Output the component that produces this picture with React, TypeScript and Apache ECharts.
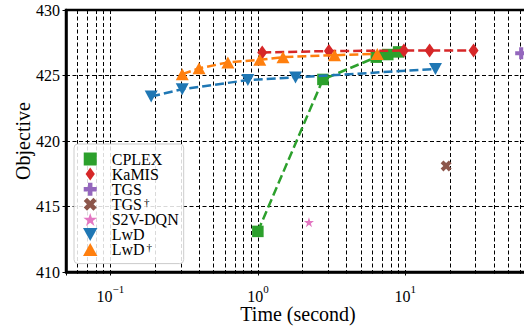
import React, { useEffect, useRef } from 'react';
import * as echarts from 'echarts';

const FONT = 'Liberation Serif';

const seriesNames = ['CPLEX', 'KaMIS', 'TGS', 'TGS†', 'S2V-DQN', 'LwD', 'LwD†'];
const seriesColors = ['#2ca02c', '#d62728', '#9467bd', '#8c564b', '#e377c2', '#1f77b4', '#ff7f0e'];

// [time (s), objective]
const cplexData = [[1.0, 413.1], [2.76, 424.7], [6.35, 426.4], [7.6, 426.6], [9.0, 426.8]];
const kamisData = [[1.07, 426.75], [3.03, 426.87], [9.77, 426.9], [14.6, 426.9], [29.0, 426.9]];
const tgsData = [[61.0, 426.7]];
const tgsDaggerData = [[18.9, 418.1]];
const s2vData = [[2.22, 413.8]];
const lwdData = [[0.189, 423.4], [0.307, 423.95], [0.855, 424.65], [1.8, 424.85], [16.0, 425.5]];
const lwdDaggerData = [[0.307, 425.1], [0.399, 425.55], [0.626, 426.0], [1.03, 426.2], [1.48, 426.4], [3.31, 426.55], [6.45, 426.65]];

const yTicks = [410, 415, 420, 425, 430];

const P_SQUARE = 'path://M0,0H10V10H0Z';
const P_DIAMOND = 'path://M5,0L10,7L5,14L0,7Z';
const P_PLUS = 'path://M3.3,0H6.7V3.3H10V6.7H6.7V10H3.3V6.7H0V3.3H3.3Z';
const P_X = 'path://M7.333,0.262L9.738,2.667L7.404,5L9.738,7.333L7.333,9.738L5,7.404L2.667,9.738L0.262,7.333L2.596,5L0.262,2.667L2.667,0.262L5,2.596Z';
const P_STAR = 'path://M10,0L12.245,6.91L19.511,6.91L13.633,11.18L15.878,18.09L10,13.82L4.122,18.09L6.367,11.18L0.489,6.91L7.755,6.91Z';
const P_TRI_DOWN = 'path://M0,0L10,0L5,9Z';
const P_TRI_UP = 'path://M5,0L10,9L0,9Z';

const symbols = [P_SQUARE, P_DIAMOND, P_PLUS, P_X, P_STAR, P_TRI_DOWN, P_TRI_UP];
const symbolSizes: any[] = [[11.5, 11.5], [10, 14], [12, 12], [11, 11], [10, 10], [13, 12], [13, 12]];
const dataSets = [cplexData, kamisData, tgsData, tgsDaggerData, s2vData, lwdData, lwdDaggerData];
const withLine = [true, true, false, false, false, true, true];

const option: any = {
  animation: false,
  backgroundColor: '#fff',
  textStyle: { fontFamily: FONT, color: '#000' },
  grid: {
    left: 66,
    top: 10,
    right: 30,
    bottom: 57,
    show: true,
    borderColor: '#000',
    borderWidth: 2.5,
    containLabel: false,
  },
  legend: {
    orient: 'vertical',
    left: 74,
    top: 144,
    padding: [7, 5, 6, 9],
    itemWidth: 33,
    itemHeight: 13,
    itemGap: -0.9,
    symbolKeepAspect: true,
    backgroundColor: 'rgba(255,255,255,0.85)',
    borderColor: '#cccccc',
    borderWidth: 1,
    borderRadius: 4,
    data: seriesNames.map((n, i) => ({ name: n, icon: symbols[i], itemStyle: { color: seriesColors[i] } })),
    formatter: (name: string) => {
      if (name.endsWith('†')) return '{n|' + name.slice(0, -1) + '}{s|†}';
      return '{n|' + name + '}';
    },
    textStyle: {
      fontFamily: FONT,
      fontSize: 16,
      color: '#000',
      rich: {
        n: { fontFamily: FONT, fontSize: 16, color: '#000' },
        s: { fontFamily: FONT, fontSize: 11, color: '#000', lineHeight: 8, verticalAlign: 'top', padding: [0, 0, 0, 2] },
      },
    },
  },
  xAxis: {
    type: 'log',
    logBase: 10,
    min: 0.05,
    max: 70,
    name: 'Time (second)',
    nameLocation: 'middle',
    nameGap: 32,
    nameMoveOverlap: false,
    nameTextStyle: { fontFamily: FONT, fontSize: 20, color: '#000' },
    axisLine: { show: true, onZero: false, lineStyle: { color: '#000', width: 2.5 } },
    axisTick: { show: true, length: 3.5, lineStyle: { color: '#000', width: 1 } },
    minorTick: { show: true, splitNumber: 9, length: 2, lineStyle: { color: '#000', width: 0.8 } },
    splitLine: { show: true, lineStyle: { color: '#000', width: 1, type: [4, 2.5] } },
    minorSplitLine: { show: true, lineStyle: { color: '#000', width: 1, type: [4, 2.5] } },
    axisLabel: {
      margin: 11,
      fontFamily: FONT,
      formatter: (v: number) => {
        const l = Math.log10(v);
        const e = Math.round(l);
        if (Math.abs(l - e) > 1e-6) return '';
        return '{b|10}{s|' + (e < 0 ? '−' + -e : String(e)) + '}';
      },
      rich: {
        b: { fontFamily: FONT, fontSize: 16, color: '#000', lineHeight: 26 },
        s: { fontFamily: FONT, fontSize: 11, color: '#000', lineHeight: 10, verticalAlign: 'top' },
      },
    },
  },
  yAxis: {
    type: 'value',
    min: yTicks[0],
    max: yTicks[yTicks.length - 1],
    interval: 5,
    name: 'Objective',
    nameLocation: 'middle',
    nameGap: 33,
    nameMoveOverlap: false,
    nameTextStyle: { fontFamily: FONT, fontSize: 20, color: '#000' },
    axisLine: { show: true, lineStyle: { color: '#000', width: 2.5 } },
    axisTick: { show: true, length: 3.5, lineStyle: { color: '#000', width: 1 } },
    splitLine: { show: true, lineStyle: { color: '#000', width: 1, type: [4, 2.5] } },
    axisLabel: { fontFamily: FONT, fontSize: 16, color: '#000', margin: 6 },
  },
  series: seriesNames.map((n, i) => ({
    name: n,
    type: withLine[i] ? 'line' : 'scatter',
    data: dataSets[i],
    symbol: symbols[i],
    symbolSize: symbolSizes[i],
    showSymbol: true,
    showAllSymbol: true,
    itemStyle: { color: seriesColors[i], opacity: 1 },
    lineStyle: { color: seriesColors[i], width: 2.5, type: [9, 4] },
    emphasis: { disabled: true },
    z: 2 + i,
  })),
};

export default function App() {
  const ref = useRef<HTMLDivElement>(null);
  useEffect(() => {
    const chart = echarts.init(ref.current!, null, { renderer: 'svg' });
    chart.setOption(option);
    return () => chart.dispose();
  }, []);
  return (
    <div style={{ position: 'fixed', left: 0, top: 0, width: 524, height: 329, overflow: 'hidden', background: '#fff' }}>
      <div ref={ref} style={{ width: 560, height: 329 }} />
    </div>
  );
}
